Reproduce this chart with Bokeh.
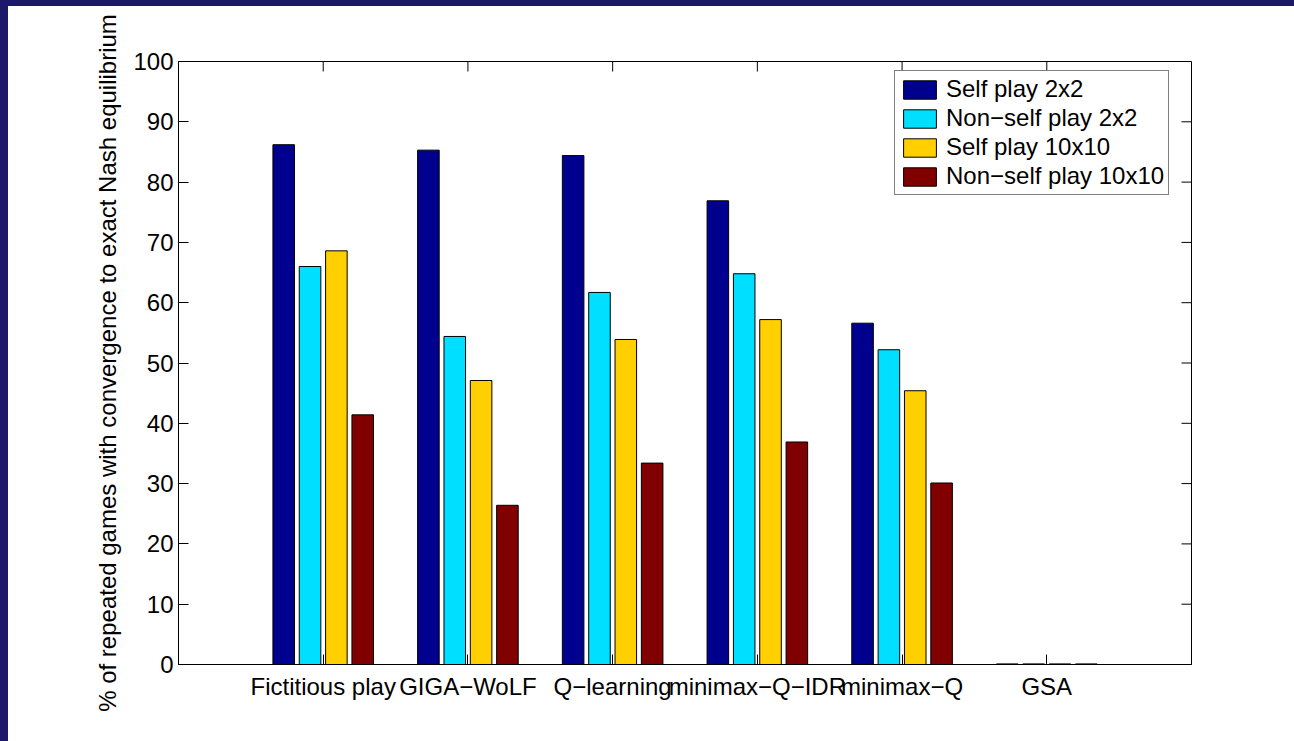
import numpy as np
from bokeh.plotting import figure
from bokeh.models import ColumnDataSource, FixedTicker, Range1d, Legend, LegendItem
from bokeh.embed import file_html
from bokeh.resources import INLINE

# ---- data ----
categories = ["Fictitious play", "GIGA\u2212WoLF", "Q\u2212learning", "minimax\u2212Q\u2212IDR", "minimax\u2212Q", "GSA"]
series_names = ["Self play 2x2", "Non\u2212self play 2x2", "Self play 10x10", "Non\u2212self play 10x10"]
self_2x2 = [86.2, 85.3, 84.4, 76.9, 56.6, 0.1]
nonself_2x2 = [66.0, 54.4, 61.7, 64.8, 52.2, 0.1]
self_10x10 = [68.6, 47.1, 53.9, 57.2, 45.4, 0.1]
nonself_10x10 = [41.4, 26.4, 33.4, 36.9, 30.1, 0.1]
y_ticks = list(range(0, 101, 10))
y_label = "% of repeated games with convergence to exact Nash equilibrium"

colors = ["#00008f", "#00dfff", "#ffcf00", "#800000"]
offsets = [-0.273, -0.091, 0.091, 0.273]
bar_width = 0.149
FONT = "Liberation Sans"
FS = "24px"
X_MIN, X_MAX = 0, 7
Y_MIN, Y_MAX = 0, 100

group_x = np.arange(1, len(categories) + 1)

p = figure(width=1286, height=735, output_backend="svg", toolbar_location=None,
           x_range=Range1d(X_MIN, X_MAX), y_range=Range1d(Y_MIN, Y_MAX),
           min_border_left=170, min_border_right=103, min_border_top=55, min_border_bottom=77,
           background_fill_color="white", border_fill_color="white")
p.xgrid.visible = False
p.ygrid.visible = False
p.outline_line_color = "black"
p.outline_line_width = 1

items = []
for vals, name, col, off in zip([self_2x2, nonself_2x2, self_10x10, nonself_10x10], series_names, colors, offsets):
    src = ColumnDataSource(dict(x=group_x + off, top=vals))
    r = p.vbar(x="x", top="top", width=bar_width, bottom=0, source=src,
               fill_color=col, line_color="black", line_width=1)
    items.append(LegendItem(label=name, renderers=[r]))

# inward ticks on the right and top edges (clipped by the frame to the inner half)
p.scatter(x=[X_MAX] * len(y_ticks), y=y_ticks, marker="dash", size=20,
          line_color="black", line_width=1)
p.scatter(x=list(group_x), y=[Y_MAX] * len(group_x), marker="dash", size=20,
          angle=np.pi / 2, line_color="black", line_width=1)

def style_axis(ax):
    ax.axis_line_color = "black"
    ax.axis_line_width = 1
    ax.major_tick_in = 10
    ax.major_tick_out = 0
    ax.major_tick_line_color = "black"
    ax.minor_tick_line_color = None
    ax.major_label_text_font = FONT
    ax.major_label_text_color = "black"
    ax.major_label_text_font_size = FS

xax = p.xaxis[0]
xax.ticker = FixedTicker(ticks=list(group_x))
xax.major_label_overrides = {int(i): c for i, c in zip(group_x, categories)}
style_axis(xax)
xax.major_label_standoff = 8

yax = p.yaxis[0]
yax.ticker = FixedTicker(ticks=y_ticks)
style_axis(yax)
yax.major_label_standoff = 5
yax.axis_label = y_label
yax.axis_label_text_font = FONT
yax.axis_label_text_font_size = FS
yax.axis_label_text_font_style = "normal"
yax.axis_label_text_color = "black"
yax.axis_label_standoff = 9

legend = Legend(items=items, location=(716, 469))
legend.label_text_font = FONT
legend.label_text_font_size = FS
legend.label_text_color = "black"
legend.glyph_width = 41
legend.glyph_height = 23
legend.label_height = 25
legend.spacing = 1
legend.padding = 4
legend.margin = 0
legend.label_standoff = 6
legend.border_line_color = "black"
legend.border_line_width = 1
legend.background_fill_color = "white"
legend.background_fill_alpha = 1
p.add_layout(legend, "center")

html = file_html(p, INLINE)
css = ("<style>html{background:#ffffff !important;overflow:hidden !important;scrollbar-width:none !important;}"
       "::-webkit-scrollbar{display:none;width:0;height:0;}"
       "body{margin:0 !important;padding:0 !important;background:#ffffff !important;overflow:hidden !important;"
       "scrollbar-width:none !important;height:741px !important;"
       "border-top:6px solid #1c196a;border-left:8px solid #1c196a;box-sizing:border-box;}</style>")
html = html.replace("</head>", css + "</head>", 1)
open("out.html", "w").write(html)
